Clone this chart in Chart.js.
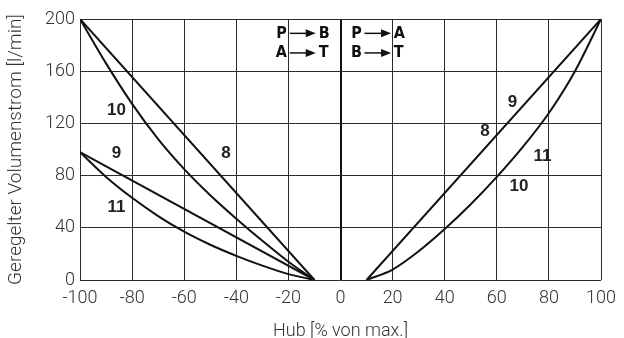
<!DOCTYPE html>
<html>
<head>
<meta charset="utf-8">
<script src="https://cdn.jsdelivr.net/npm/chart.js@4/dist/chart.umd.min.js"></script>
<style>
  body { margin: 0; background: #fff; }
  #chart { display: block; }
</style>
</head>
<body>
<canvas id="chart" width="624" height="338"></canvas>
<script>
// Kennlinien links (P -> B, A -> T)
const hubLinks = [-100, -90, -80, -70, -60, -50, -40, -30, -20, -10];
const kurve10Links = [200, 166, 135, 108, 85, 65, 47, 30, 14, 0];
const kurve11Links = [98, 79, 63, 49, 37, 27, 18.5, 11, 4.5, 0];
const gerade8LinksX = [-100, -10];
const gerade8LinksY = [200, 0];
const gerade9LinksX = [-100, -10];
const gerade9LinksY = [98, 0];

// Kennlinien rechts (P -> A, B -> T)
const hubRechts = [10, 20, 30, 40, 50, 60, 70, 80, 90, 100];
const kurve1011Rechts = [0, 8, 22, 39, 58, 79, 102, 128, 160, 200];
const gerade89RechtsX = [10, 100];
const gerade89RechtsY = [0, 200];

// Kurvennummern
const kurvenNamen = ["10", "9", "11", "8", "9", "8", "11", "10"];
const kurvenNamenX = [-86, -86, -86, -44, 66, 55.5, 77.5, 68.5];
const kurvenNamenY = [130, 97, 56, 97, 136, 114, 95, 72];

// Durchflussrichtungen
const flussLinks = [["P", "B"], ["A", "T"]];
const flussRechts = [["P", "A"], ["B", "T"]];
const flussZeilenY = [189, 174];

const xTicks = [-100, 100, 20];
const yTicks = [0, 200, 40];

const toPoints = (xs, ys) => xs.map((x, i) => ({ x: x, y: ys[i] }));

const linie = (xs, ys, kurve) => ({
    data: toPoints(xs, ys),
    borderColor: "#111",
    borderWidth: 2,
    pointRadius: 0,
    fill: false,
    cubicInterpolationMode: kurve ? "monotone" : "default",
    tension: 0
});

// 🏷️ Beschriftungen im Diagramm
const beschriftung = {
    id: "beschriftung",
    afterDatasetsDraw(chart) {
        const { ctx, scales: { x, y } } = chart;
        ctx.save();
        ctx.fillStyle = "#222";
        ctx.font = "bold 17px 'Liberation Sans', Arial, sans-serif";
        ctx.textAlign = "center";
        ctx.textBaseline = "middle";
        kurvenNamen.forEach((n, i) => {
            ctx.fillText(n, x.getPixelForValue(kurvenNamenX[i]), y.getPixelForValue(kurvenNamenY[i]));
        });

        ctx.font = "bold 16px 'DejaVu Sans Condensed', 'Liberation Sans Narrow', Arial, sans-serif";
        ctx.fillStyle = "#111";
        ctx.strokeStyle = "#111";
        ctx.lineWidth = 1.5;
        const pfeil = (x0, x1, py) => {
            ctx.beginPath();
            ctx.moveTo(x0, py);
            ctx.lineTo(x1 - 8, py);
            ctx.stroke();
            ctx.beginPath();
            ctx.moveTo(x1, py);
            ctx.lineTo(x1 - 10, py - 4);
            ctx.lineTo(x1 - 10, py + 4);
            ctx.closePath();
            ctx.fill();
        };
        const gruppe = (paare, vonX, pfeilA, pfeilB, nachX) => {
            paare.forEach((p, i) => {
                const py = y.getPixelForValue(flussZeilenY[i]);
                ctx.textAlign = "right";
                ctx.fillText(p[0], x.getPixelForValue(vonX), py);
                pfeil(x.getPixelForValue(pfeilA), x.getPixelForValue(pfeilB), py);
                ctx.textAlign = "left";
                ctx.fillText(p[1], x.getPixelForValue(nachX), py);
            });
        };
        gruppe(flussLinks, -20.6, -19.5, -9.5, -8.4);
        gruppe(flussRechts, 8.2, 9.2, 19.4, 20.4);
        ctx.restore();
    }
};

const textFarbe = "#333";
const schrift = { family: "Roboto, 'Liberation Sans', sans-serif", size: 18, weight: 300 };

new Chart(document.getElementById("chart"), {
    type: "line",
    data: {
        datasets: [
            linie(hubLinks, kurve10Links, true),
            linie(hubLinks, kurve11Links, true),
            linie(gerade8LinksX, gerade8LinksY, false),
            linie(gerade9LinksX, gerade9LinksY, false),
            linie(hubRechts, kurve1011Rechts, true),
            linie(gerade89RechtsX, gerade89RechtsY, false)
        ]
    },
    options: {
        responsive: false,
        animation: false,
        layout: { padding: { left: 0, right: 21, top: 19, bottom: 0 } },
        plugins: { legend: { display: false }, tooltip: { enabled: false } },
        scales: {
            x: {
                type: "linear",
                min: xTicks[0],
                max: xTicks[1],
                afterFit: s => { s.height = 58; },
                ticks: { stepSize: xTicks[2], color: textFarbe, font: schrift, padding: 8, maxRotation: 0 },
                grid: {
                    drawTicks: false,
                    color: ctx => ctx.tick && ctx.tick.value === 0 ? "#111" : "#2a2a2a",
                    lineWidth: ctx => ctx.tick && ctx.tick.value === 0 ? 2 : 1
                },
                border: { display: false },
                title: {
                    display: true,
                    text: "Hub [% von max.]",
                    color: textFarbe,
                    font: { family: schrift.family, size: 18, weight: 300, lineHeight: 0.7 },
                    padding: 0
                }
            },
            y: {
                min: yTicks[0],
                max: yTicks[1],
                afterFit: s => { s.width = 80; },
                ticks: { stepSize: yTicks[2], color: textFarbe, font: schrift, padding: 5 },
                grid: { drawTicks: false, color: "#2a2a2a", lineWidth: 1 },
                border: { display: false },
                title: {
                    display: true,
                    text: "Geregelter Volumenstrom [l/min]",
                    color: textFarbe,
                    font: { family: schrift.family, size: 19, weight: 300, lineHeight: 1.2 },
                    padding: { top: 5, bottom: 0 }
                }
            }
        }
    },
    plugins: [beschriftung]
});
</script>
</body>
</html>
